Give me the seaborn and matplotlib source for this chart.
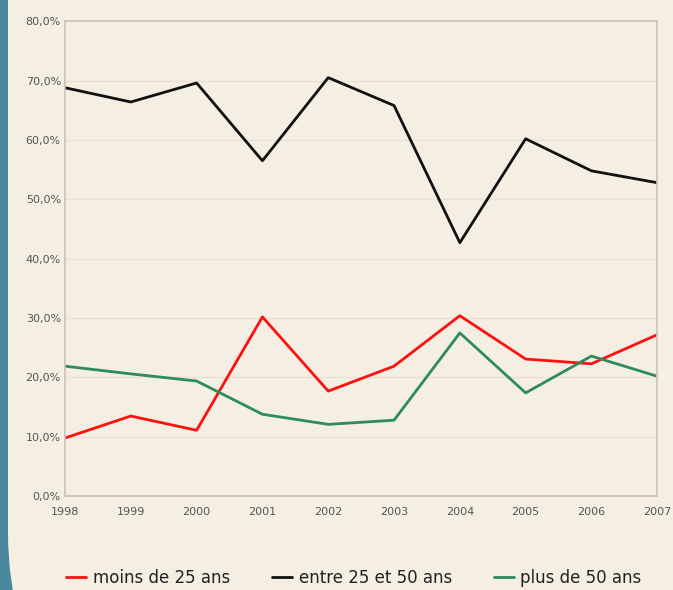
import pandas as pd
import seaborn as sns
import matplotlib.pyplot as plt
from matplotlib.patches import FancyBboxPatch
from matplotlib.ticker import FuncFormatter

# Data (share of each age group, %)
years = [1998, 1999, 2000, 2001, 2002, 2003, 2004, 2005, 2006, 2007]
moins_25 = [9.8, 13.5, 11.1, 30.2, 17.7, 21.9, 30.4, 23.1, 22.3, 27.2]
entre_25_50 = [68.8, 66.4, 69.6, 56.5, 70.5, 65.8, 42.7, 60.2, 54.8, 52.8]
plus_50 = [21.9, 20.6, 19.4, 13.8, 12.1, 12.8, 27.5, 17.4, 23.6, 20.2]
series_names = ["moins de 25 ans", "entre 25 et 50 ans", "plus de 50 ans"]
colors = ["#ff1010", "#111111", "#2e8b5a"]

df = pd.concat([
    pd.DataFrame({"annee": years, "part": vals, "groupe": name})
    for name, vals in zip(series_names, [moins_25, entre_25_50, plus_50])
])

bg = "#f5eee2"
sns.set_theme(style="white")
plt.rcParams["font.family"] = ["DejaVu Sans"]

fig = plt.figure(figsize=(6.73, 5.90), dpi=100)
fig.patch.set_facecolor("#4a879c")
# beige panel with rounded bottom-left corner
panel = FancyBboxPatch((8, -143), 2000, 2000, boxstyle="round,pad=0,rounding_size=200",
                       transform=None, facecolor=bg, edgecolor="none", zorder=-5)
fig.patches.append(panel)

ax = fig.add_axes([0.0966, 0.159, 0.88, 0.805])
ax.set_facecolor(bg)

sns.lineplot(data=df, x="annee", y="part", hue="groupe", palette=colors,
             hue_order=series_names, linewidth=2.0, ax=ax, legend=False)

ax.set_xlim(1998, 2007)
ax.set_ylim(0, 80)
ax.set_xticks(years)
ax.set_yticks(range(0, 81, 10))
ax.yaxis.set_major_formatter(FuncFormatter(lambda v, p: f"{v:.1f}%".replace(".", ",")))
ax.tick_params(axis="both", labelsize=8, colors="#555555", length=0)
ax.tick_params(axis="x", pad=8)
ax.tick_params(axis="y", pad=3)
ax.grid(axis="y", color="#ebe1d2", linewidth=1)
ax.set_xlabel("")
ax.set_ylabel("")
for s in ax.spines.values():
    s.set_color("#c9c2b8")
    s.set_linewidth(1.2)

handles = [plt.Line2D([0], [0], color=c, linewidth=2) for c in colors]
fig.legend(handles, series_names, loc="lower center", bbox_to_anchor=(0.526, -0.02),
           ncol=3, frameon=False, fontsize=12, handlelength=1.2, handletextpad=0.4,
           columnspacing=2.5, labelcolor="#222222")

fig.savefig("out.png", dpi=100, facecolor=fig.get_facecolor())
